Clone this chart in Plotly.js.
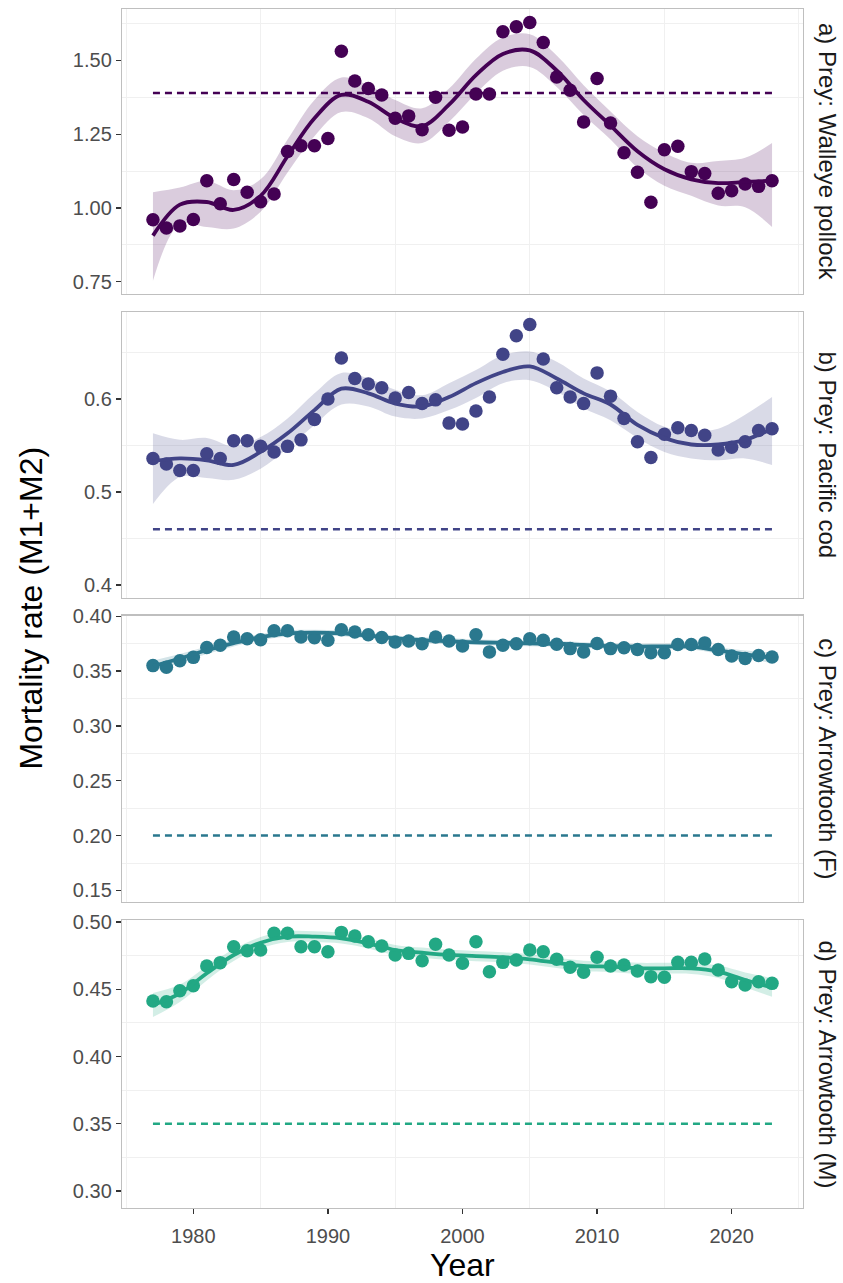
<!DOCTYPE html>
<html>
<head>
<meta charset="utf-8">
<script src="https://cdn.plot.ly/plotly-3.0.1.min.js"></script>
<style>html,body{margin:0;padding:0;background:#fff;}#chart{width:843px;height:1283px;}</style>
</head>
<body>
<div id="chart"></div>
<script>
// ---------- DATA ----------
const years = [1977,1978,1979,1980,1981,1982,1983,1984,1985,1986,1987,1988,1989,1990,1991,1992,1993,1994,1995,1996,1997,1998,1999,2000,2001,2002,2003,2004,2005,2006,2007,2008,2009,2010,2011,2012,2013,2014,2015,2016,2017,2018,2019,2020,2021,2022,2023];

const pollockM = [0.960,0.932,0.939,0.961,1.092,1.014,1.096,1.053,1.021,1.047,1.191,1.211,1.211,1.235,1.531,1.430,1.405,1.383,1.304,1.312,1.265,1.375,1.263,1.274,1.386,1.386,1.597,1.614,1.629,1.561,1.444,1.399,1.291,1.439,1.288,1.187,1.121,1.019,1.197,1.209,1.123,1.117,1.050,1.058,1.081,1.073,1.092];
const codM = [0.536,0.530,0.523,0.523,0.541,0.536,0.555,0.555,0.549,0.543,0.549,0.556,0.578,0.600,0.644,0.622,0.616,0.612,0.601,0.607,0.595,0.599,0.574,0.573,0.587,0.602,0.648,0.668,0.680,0.643,0.612,0.602,0.595,0.628,0.603,0.579,0.554,0.537,0.562,0.569,0.566,0.561,0.545,0.548,0.554,0.566,0.568];
const arrowFM = [0.355,0.3535,0.3595,0.3625,0.3715,0.3735,0.381,0.3795,0.3785,0.3868,0.3868,0.381,0.3805,0.3782,0.3877,0.3856,0.3832,0.3807,0.3765,0.3775,0.375,0.381,0.3775,0.3728,0.3832,0.3675,0.3735,0.375,0.3795,0.378,0.3745,0.3705,0.3675,0.3752,0.3705,0.3712,0.3697,0.3667,0.3667,0.3742,0.3742,0.3757,0.3697,0.3637,0.3615,0.3643,0.3628];
const arrowMM = [0.4413,0.4408,0.4489,0.4526,0.4673,0.4698,0.4816,0.4787,0.4792,0.4916,0.4916,0.4816,0.4816,0.4779,0.4923,0.4896,0.4854,0.4822,0.4755,0.4767,0.4712,0.4834,0.4755,0.4693,0.4854,0.4631,0.4700,0.4717,0.4792,0.4779,0.4723,0.4663,0.4626,0.4738,0.4673,0.4680,0.4636,0.4594,0.4589,0.4700,0.4700,0.4725,0.4643,0.4556,0.4532,0.4556,0.4544];

// smoother (read at odd years)
const fitYears = [1977,1979,1981,1983,1985,1987,1989,1991,1993,1995,1997,1999,2001,2003,2005,2007,2009,2011,2013,2015,2017,2019,2021,2023];

const pollockFit = [0.906,1.011,1.020,0.993,1.041,1.175,1.304,1.383,1.360,1.304,1.277,1.350,1.450,1.522,1.534,1.466,1.366,1.279,1.192,1.131,1.097,1.084,1.088,1.092];
const pollockUp  = [1.053,1.069,1.092,1.060,1.097,1.232,1.366,1.442,1.416,1.366,1.338,1.405,1.506,1.578,1.589,1.517,1.416,1.327,1.243,1.187,1.153,1.159,1.170,1.220];
const pollockLo  = [0.753,0.945,0.935,0.930,0.987,1.120,1.243,1.325,1.304,1.243,1.220,1.292,1.388,1.465,1.478,1.410,1.315,1.232,1.137,1.075,1.041,1.008,1.002,0.935];

const codFit = [0.533,0.536,0.534,0.529,0.543,0.563,0.588,0.611,0.606,0.595,0.592,0.602,0.617,0.629,0.635,0.622,0.606,0.594,0.572,0.558,0.551,0.551,0.556,0.568];
const codUp  = [0.563,0.556,0.558,0.549,0.559,0.579,0.606,0.628,0.622,0.610,0.604,0.617,0.631,0.647,0.651,0.640,0.622,0.608,0.586,0.570,0.565,0.568,0.583,0.602];
const codLo  = [0.487,0.516,0.515,0.513,0.525,0.547,0.572,0.594,0.592,0.581,0.579,0.588,0.601,0.617,0.620,0.608,0.590,0.577,0.558,0.543,0.536,0.534,0.536,0.529];

const arrowFFit = [0.3545,0.3615,0.369,0.3755,0.381,0.3843,0.385,0.3843,0.3823,0.3798,0.3783,0.3773,0.3763,0.3758,0.3753,0.3749,0.3738,0.3727,0.3723,0.3725,0.3723,0.3688,0.3653,0.3622];
const arrowFUp  = [0.3595,0.3655,0.3725,0.3785,0.3838,0.387,0.3876,0.3869,0.3849,0.3824,0.3809,0.3799,0.3789,0.3784,0.3779,0.3775,0.3764,0.3753,0.3749,0.3751,0.375,0.3718,0.3688,0.367];
const arrowFLo  = [0.3495,0.3575,0.3655,0.3725,0.3782,0.3816,0.3824,0.3817,0.3797,0.3772,0.3757,0.3747,0.3737,0.3732,0.3727,0.3723,0.3712,0.3701,0.3697,0.3699,0.3696,0.3658,0.3618,0.3574];

const arrowMFit = [0.4383,0.447,0.4619,0.4755,0.4846,0.4891,0.4891,0.4879,0.4842,0.4792,0.4772,0.4755,0.4747,0.4738,0.4723,0.4697,0.4673,0.4668,0.4656,0.4656,0.4656,0.4631,0.4569,0.4514];
const arrowMUp  = [0.4473,0.4535,0.4672,0.4800,0.4888,0.4931,0.4931,0.4918,0.4880,0.4830,0.4810,0.4793,0.4785,0.4776,0.4762,0.4736,0.4712,0.4708,0.4697,0.4697,0.4698,0.4678,0.4625,0.4584];
const arrowMLo  = [0.4293,0.4405,0.4566,0.4710,0.4804,0.4851,0.4851,0.4840,0.4804,0.4754,0.4734,0.4717,0.4709,0.4700,0.4684,0.4658,0.4634,0.4628,0.4615,0.4615,0.4614,0.4584,0.4513,0.4444];

// reference (dashed) levels
const refLevels = [1.39, 0.46, 0.20, 0.35];
const refYears = [1977, 2023];

const stripLabels = ["a) Prey: Walleye pollock","b) Prey: Pacific cod","c) Prey: Arrowtooth (F)","d) Prey: Arrowtooth (M)"];
const colors = ["#440154","#414487","#2A788E","#22A884"];
const fills = ["rgba(68,1,84,0.2)","rgba(65,68,135,0.2)","rgba(42,120,142,0.2)","rgba(34,168,132,0.2)"];

const obs = [pollockM, codM, arrowFM, arrowMM];
const fits = [pollockFit, codFit, arrowFFit, arrowMFit];
const ups = [pollockUp, codUp, arrowFUp, arrowMUp];
const los = [pollockLo, codLo, arrowFLo, arrowMLo];

// ---------- TRACES ----------
const traces = [];
for (let i = 0; i < 4; i++) {
  const xa = i === 0 ? 'x' : 'x' + (i + 1);
  const ya = i === 0 ? 'y' : 'y' + (i + 1);
  traces.push({x: fitYears, y: los[i], xaxis: xa, yaxis: ya, mode: 'lines', line: {width: 0, shape: 'spline', color: fills[i]}, hoverinfo: 'skip', showlegend: false});
  traces.push({x: fitYears, y: ups[i], xaxis: xa, yaxis: ya, mode: 'lines', fill: 'tonexty', fillcolor: fills[i], line: {width: 0, shape: 'spline', color: fills[i]}, hoverinfo: 'skip', showlegend: false});
  traces.push({x: refYears, y: [refLevels[i], refLevels[i]], xaxis: xa, yaxis: ya, mode: 'lines', line: {color: colors[i], width: 2.5, dash: '7px,5px'}, showlegend: false});
  traces.push({x: years, y: obs[i], xaxis: xa, yaxis: ya, mode: 'markers', marker: {color: colors[i], size: 13.5}, showlegend: false});
  traces.push({x: fitYears, y: fits[i], xaxis: xa, yaxis: ya, mode: 'lines', line: {color: colors[i], width: 3.8, shape: 'spline'}, showlegend: false});
}

// ---------- LAYOUT ----------
const FONT = 'Liberation Sans, Arial, sans-serif';
const tickFont = {family: FONT, size: 20, color: '#4d4d4d'};
const borderCol = '#bfbfbf';
const gridCol = '#f0f0f0';

function xAxis(i) {
  return {
    range: [1974.7, 2025.3], tickmode: 'linear', tick0: 1980, dtick: 10,
    showgrid: false, zeroline: false,
    showline: true, linecolor: borderCol, linewidth: 1.2, mirror: true,
    ticks: i === 3 ? 'outside' : '', ticklen: 5, tickwidth: 1.3, tickcolor: '#333333',
    showticklabels: i === 3, tickfont: tickFont, ticklabelstandoff: 5,
    minor: {tickmode: 'linear', tick0: 1985, dtick: 10, showgrid: true, gridcolor: gridCol, gridwidth: 1, ticks: ''},
    anchor: i === 0 ? 'y' : 'y' + (i + 1)
  };
}
function yAxis(i, range, domain, tick0, dtick, fmt, mtick0) {
  return {
    range: range, domain: domain, tickmode: 'linear', tick0: tick0, dtick: dtick, tickformat: fmt,
    showgrid: false, zeroline: false,
    showline: true, linecolor: borderCol, linewidth: 1.2, mirror: true,
    ticks: 'outside', ticklen: 5, tickwidth: 1.3, tickcolor: '#333333',
    tickfont: tickFont,
    minor: {tickmode: 'linear', tick0: mtick0, dtick: dtick, showgrid: true, gridcolor: gridCol, gridwidth: 1, ticks: ''},
    anchor: i === 0 ? 'x' : 'x' + (i + 1)
  };
}

const domains = [[0.7623, 1.0], [0.5088, 0.7473], [0.2555, 0.4940], [0, 0.2402]];

const annotations = stripLabels.map((t, i) => ({
  text: t, xref: 'paper', yref: 'paper', x: 1.036, y: (domains[i][0] + domains[i][1]) / 2,
  xanchor: 'center', yanchor: 'middle', textangle: 90, showarrow: false,
  font: {family: FONT, size: 24, color: '#1a1a1a'}
}));
annotations.push({text: 'Mortality rate (M1+M2)', xref: 'paper', yref: 'paper', x: -0.135, y: 0.5,
  xanchor: 'center', yanchor: 'middle', textangle: -90, showarrow: false,
  font: {family: FONT, size: 32, color: '#000000'}});
annotations.push({text: 'Year', xref: 'paper', yref: 'paper', x: 0.5, y: -0.0475,
  xanchor: 'center', yanchor: 'middle', showarrow: false,
  font: {family: FONT, size: 32, color: '#000000'}});

const layout = {
  width: 843, height: 1283,
  margin: {l: 122, r: 40, t: 9, b: 75},
  paper_bgcolor: '#ffffff', plot_bgcolor: '#ffffff',
  showlegend: false,
  xaxis: xAxis(0), xaxis2: xAxis(1), xaxis3: xAxis(2), xaxis4: xAxis(3),
  yaxis: yAxis(0, [0.708, 1.6745], domains[0], 0.75, 0.25, '.2f', 0.875),
  yaxis2: yAxis(1, [0.386, 0.6935], domains[1], 0.4, 0.1, '.1f', 0.45),
  yaxis3: yAxis(2, [0.1398, 0.4005], domains[2], 0.15, 0.05, '.2f', 0.175),
  yaxis4: yAxis(3, [0.2874, 0.5015], domains[3], 0.30, 0.05, '.2f', 0.325),
  annotations: annotations
};

Plotly.newPlot('chart', traces, layout, {staticPlot: true, displayModeBar: false});
</script>
</body>
</html>
